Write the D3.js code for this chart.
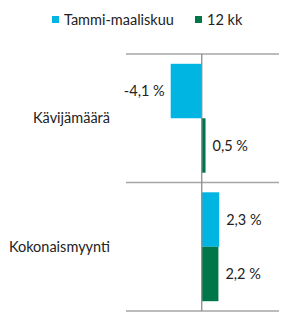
<!DOCTYPE html>
<html>
<head>
<meta charset="utf-8">
<script src="https://cdn.jsdelivr.net/npm/d3@7"></script>
<style>
  body { margin: 0; background: #fff; }
  text { font-family: Lato, "Open Sans", sans-serif; fill: #222; }
</style>
</head>
<body>
<svg id="chart" width="287" height="316"></svg>
<script>
// Data
const categories = ["Kävijämäärä", "Kokonaismyynti"];
const seriesNames = ["Tammi-maaliskuu", "12 kk"];
const seriesColors = ["#00b5e2", "#00774a"];
const tammiMaaliskuu = [-4.1, 2.3];
const kk12 = [0.5, 2.2];

const svg = d3.select("#chart");
const margin = { top: 54, left: 126, right: 8, bottom: 5 };
const width = 287, height = 316;

// Scales
const x = d3.scaleLinear()
    .domain([-10.0, 10.2])
    .range([margin.left, width - margin.right]);

const y = d3.scaleBand()
    .domain(categories)
    .range([margin.top, height - margin.bottom])
    .paddingInner(0)
    .paddingOuter(0);

const ySub = d3.scaleBand()
    .domain(seriesNames)
    .range([0, y.bandwidth()])
    .paddingOuter(0.18);

// Grid lines between categories
const gridY = [margin.top].concat(categories.map(c => y(c) + y.bandwidth()));
svg.selectAll(".grid")
    .data(gridY)
    .enter()
    .append("line")
    .attr("class", "grid")
    .attr("x1", x.range()[0])
    .attr("x2", x.range()[1])
    .attr("y1", d => d)
    .attr("y2", d => d)
    .attr("stroke", "#a6a6a6")
    .attr("stroke-width", 1.3);

// Bars
const rows = [];
categories.forEach((c, i) => {
    rows.push({ cat: c, series: seriesNames[0], value: tammiMaaliskuu[i], color: seriesColors[0] });
    rows.push({ cat: c, series: seriesNames[1], value: kk12[i], color: seriesColors[1] });
});

svg.selectAll(".bar")
    .data(rows)
    .enter()
    .append("rect")
    .attr("class", "bar")
    .attr("x", d => Math.min(x(0), x(d.value)))
    .attr("width", d => Math.abs(x(d.value) - x(0)))
    .attr("y", d => y(d.cat) + ySub(d.series))
    .attr("height", ySub.bandwidth())
    .attr("fill", d => d.color);

// Zero axis line
svg.append("line")
    .attr("x1", x(0))
    .attr("x2", x(0))
    .attr("y1", margin.top)
    .attr("y2", height - margin.bottom)
    .attr("stroke", "#8c8c8c")
    .attr("stroke-width", 1.3);

// Value labels
const fmt = v => d3.format(".1f")(v).replace("−", "-").replace(".", ",") + " %";
svg.selectAll(".val")
    .data(rows)
    .enter()
    .append("text")
    .attr("class", "val")
    .attr("x", d => d.value < 0 ? x(d.value) - 6 : x(d.value) + 7)
    .attr("y", d => y(d.cat) + ySub(d.series) + ySub.bandwidth() / 2)
    .attr("dy", "0.35em")
    .attr("text-anchor", d => d.value < 0 ? "end" : "start")
    .style("font-size", "14.5px")
    .text(d => fmt(d.value));

// Category labels
svg.selectAll(".cat")
    .data(categories)
    .enter()
    .append("text")
    .attr("class", "cat")
    .attr("x", 110)
    .attr("y", d => y(d) + y.bandwidth() / 2)
    .attr("dy", "0.35em")
    .attr("text-anchor", "end")
    .style("font-size", "14.5px")
    .text(d => d);

// Legend
const legendX = [52, 195];
const legend = svg.selectAll(".legend")
    .data(seriesNames)
    .enter()
    .append("g")
    .attr("class", "legend")
    .attr("transform", (d, i) => `translate(${legendX[i]},16)`);

legend.append("rect")
    .attr("width", 7)
    .attr("height", 7)
    .attr("fill", (d, i) => seriesColors[i]);

legend.append("text")
    .attr("x", 12)
    .attr("y", 4)
    .attr("dy", "0.35em")
    .style("font-size", "14.5px")
    .text(d => d);
</script>
</body>
</html>
